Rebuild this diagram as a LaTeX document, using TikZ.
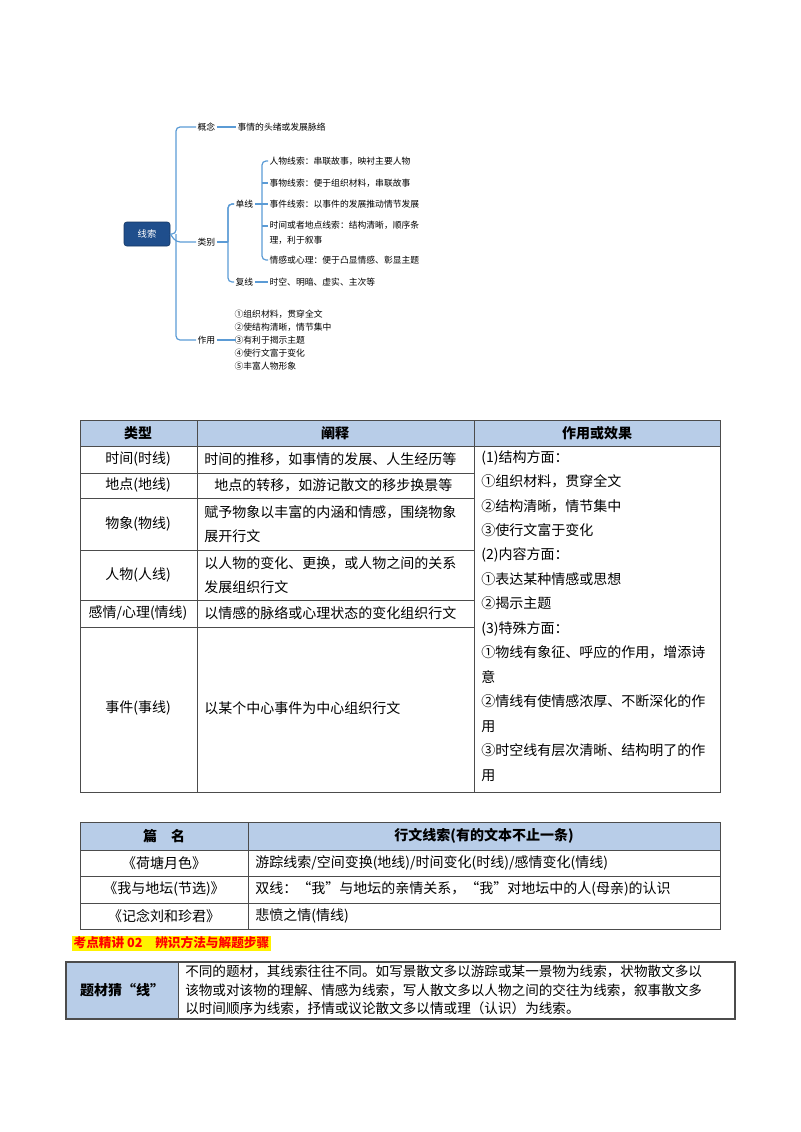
\documentclass[tikz,border=0pt]{standalone}
\usepackage{fontspec}
\setmainfont{Noto Sans CJK SC}
\definecolor{hdc}{HTML}{B8CDE8}
\definecolor{rootc}{HTML}{1F4E8C}
\definecolor{brc}{HTML}{5B9BD5}
\begin{document}
\begin{tikzpicture}[x=0.75pt,y=-0.75pt,
  mm/.style={font=\fontsize{6.6}{8}\selectfont,anchor=west,inner sep=1pt},
  br/.style={draw=brc,line width=0.9pt,rounded corners=3pt},
  tb/.style={font=\fontsize{10.5}{18}\selectfont,inner sep=0pt},
  grid/.style={draw=black!70,line width=0.6pt},
  hd/.style={fill=hdc}]
\useasboundingbox (0,0) rectangle (800,1132);
% mind map
\node[fill=rootc,draw=rootc!70!black,rounded corners=2pt,text=white,font=\fontsize{7}{8}\selectfont,minimum width=46*0.75pt,minimum height=24*0.75pt] (root) at (147,234) {线索};
\node[mm] (gn) at (196,127) {概念};
\node[mm] (lb) at (196,242) {类别};
\node[mm] (zy) at (196,340) {作用};
\draw[br] (root.east) -- (176,234) |- (gn.west);
\draw[br] (176,234) |- (zy.west);
\draw[br] (root.east) -- (176,242) -- (lb.west);
\node[mm] (gnt) at (236,127) {事情的头绪或发展脉络};
\draw[br] (gn.east) -- (gnt.west);
\node[mm] (dx) at (234,204) {单线};
\node[mm] (fx) at (234,282) {复线};
\draw[br] (lb.east) -- (228,242);
\draw[br] (dx.west) -| (228,282) -- (fx.west);
\draw[br] (dx.west) -| (228,242);
\node[mm] (a1) at (268,161) {人物线索：串联故事，映衬主要人物};
\node[mm] (a2) at (268,183) {事物线索：便于组织材料，串联故事};
\node[mm] (a3) at (268,204) {事件线索：以事件的发展推动情节发展};
\node[mm,align=left,font=\fontsize{6.6}{11}\selectfont] (a4) at (268,233) {时间或者地点线索：结构清晰，顺序条\\理，利于叙事};
\node[mm] (a5) at (268,260) {情感或心理：便于凸显情感、彰显主题};
\draw[br] (a1.west) -| (262,260) -- (a5.west);
\draw[br] (dx.east) -- (a3.west);
\draw[br] (262,183) -- (a2.west);
\draw[br] (262,226) -- (268,226);
\node[mm] (fxt) at (268,282) {时空、明暗、虚实、主次等};
\draw[br] (fx.east) -- (fxt.west);
\node[mm,align=left,font=\fontsize{6.6}{9.8}\selectfont] (zyt) at (233,340) {①组织材料，贯穿全文\\②使结构清晰，情节集中\\③有利于揭示主题\\④使行文富于变化\\⑤丰富人物形象};
\draw[br] (zy.east) -- (236,340);
% table 1
\fill[hd] (80,420) rectangle (720,446);
\draw[grid] (80,420) rectangle (720,792);
\draw[grid] (197,420) -- (197,792) (474,420) -- (474,792);
\draw[grid] (80,446) -- (720,446);
\foreach \y in {473,498,550,600,627} \draw[grid] (80,\y) -- (474,\y);
\node[tb,font=\bfseries\fontsize{10.5}{12}\selectfont] (h1) at (138,433) {类型};
\node[tb,font=\bfseries\fontsize{10.5}{12}\selectfont] (h2) at (335,433) {阐释};
\node[tb,font=\bfseries\fontsize{10.5}{12}\selectfont] (h3) at (597,433) {作用或效果};
\node[tb] (t1) at (138,459) {时间(时线)};
\node[tb] (t2) at (138,485) {地点(地线)};
\node[tb] (t3) at (138,524) {物象(物线)};
\node[tb] (t4) at (138,575) {人物(人线)};
\node[tb] (t5) at (138,613) {感情/心理(情线)};
\node[tb] (t6) at (138,708) {事件(事线)};
\node[tb,anchor=west] (e1) at (204,459) {时间的推移，如事情的发展、人生经历等};
\node[tb,anchor=west] (e2) at (214,485) {地点的转移，如游记散文的移步换景等};
\node[tb,anchor=west,align=left] (e3) at (204,524) {赋予物象以丰富的内涵和情感，围绕物象\\展开行文};
\node[tb,anchor=west,align=left] (e4) at (204,575) {以人物的变化、更换，或人物之间的关系\\发展组织行文};
\node[tb,anchor=west] (e5) at (204,613) {以情感的脉络或心理状态的变化组织行文};
\node[tb,anchor=west] (e6) at (204,708) {以某个中心事件为中心组织行文};
\node[tb,anchor=north west,align=left,font=\fontsize{10.5}{18.35}\selectfont] (c3) at (481,450) {(1)结构方面：\\①组织材料，贯穿全文\\②结构清晰，情节集中\\③使行文富于变化\\(2)内容方面：\\①表达某种情感或思想\\②揭示主题\\(3)特殊方面：\\①物线有象征、呼应的作用，增添诗\\意\\②情线有使情感浓厚、不断深化的作\\用\\③时空线有层次清晰、结构明了的作\\用};
% table 2
\fill[hd] (80,822) rectangle (720,850);
\draw[grid] (80,822) rectangle (720,929);
\draw[grid] (248,822) -- (248,929);
\foreach \y in {850,876,903} \draw[grid] (80,\y) -- (720,\y);
\node[tb,font=\bfseries\fontsize{10.5}{12}\selectfont] (p0) at (164,836) {篇\quad 名};
\node[tb,font=\bfseries\fontsize{10.5}{12}\selectfont] (p1) at (484,836) {行文线索(有的文本不止一条)};
\node[tb] (q1) at (164,863) {《荷塘月色》};
\node[tb] (q2) at (164,889) {《我与地坛(节选)》};
\node[tb] (q3) at (164,916) {《记念刘和珍君》};
\node[tb,anchor=west] (r1) at (255,863) {游踪线索/空间变换(地线)/时间变化(时线)/感情变化(情线)};
\node[tb,anchor=west] (r2) at (255,889) {双线：“我”与地坛的亲情关系，“我”对地坛中的人(母亲)的认识};
\node[tb,anchor=west] (r3) at (255,916) {悲愤之情(情线)};
% heading
\node[fill=yellow,text=red,font=\bfseries\fontsize{9.5}{11}\selectfont,inner sep=1pt,anchor=west] (kd) at (72,943) {考点精讲 02\quad 辨识方法与解题步骤};
% table 3
\fill[hd] (66,962) rectangle (178,1019);
\draw[grid,line width=1pt] (66,962) rectangle (735,1019);
\draw[grid] (178,962) -- (178,1019);
\node[tb,font=\bfseries\fontsize{10.5}{12}\selectfont] (tc) at (122,990) {题材猜“线”};
\node[tb,anchor=west,align=left,font=\fontsize{10.2}{13.6}\selectfont] (td) at (185,990) {不同的题材，其线索往往不同。如写景散文多以游踪或某一景物为线索，状物散文多以\\该物或对该物的理解、情感为线索，写人散文多以人物之间的交往为线索，叙事散文多\\以时间顺序为线索，抒情或议论散文多以情或理（认识）为线索。};
\end{tikzpicture}
\end{document}
